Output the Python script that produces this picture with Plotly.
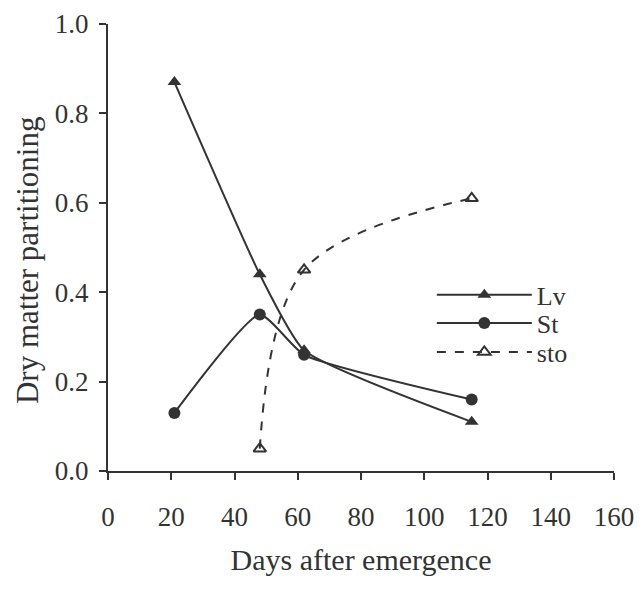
import plotly.graph_objects as go

days = [21, 48, 62, 115]
lv = [0.87, 0.44, 0.27, 0.11]
st = [0.13, 0.35, 0.26, 0.16]
sto_days = [48, 62, 115]
sto = [0.05, 0.45, 0.61]

x_ticks = [0, 20, 40, 60, 80, 100, 120, 140, 160]
y_ticks = [0.0, 0.2, 0.4, 0.6, 0.8, 1.0]

ink = "#333333"
font = "Liberation Serif"
tickfont = dict(family=font, size=27, color=ink)
legfont = dict(family=font, size=26, color=ink)

fig = go.Figure()
fig.add_trace(go.Scatter(x=days, y=lv, name="Lv", mode="lines+markers", legend="legend",
                         line=dict(color=ink, width=2, shape="spline", smoothing=0.5),
                         marker=dict(symbol="triangle-up", size=12, color=ink)))
fig.add_trace(go.Scatter(x=days, y=st, name="St", mode="lines+markers", legend="legend2",
                         line=dict(color=ink, width=2, shape="spline", smoothing=0.5),
                         marker=dict(symbol="circle", size=12, color=ink)))
fig.add_trace(go.Scatter(x=sto_days, y=sto, name="sto", mode="lines+markers", legend="legend3",
                         line=dict(color=ink, width=2, dash="dash", shape="spline", smoothing=1),
                         marker=dict(symbol="triangle-up-open", size=11, color=ink,
                                     line=dict(width=2, color=ink))))

leg_common = dict(x=0.640, xanchor="left", yanchor="middle",
                  bgcolor="rgba(0,0,0,0)", itemwidth=95, font=legfont)

fig.update_layout(
    width=635, height=582,
    margin=dict(l=100, r=29, t=16, b=119),
    paper_bgcolor="white", plot_bgcolor="white",
    font=dict(family=font, size=25, color=ink),
    showlegend=True,
    legend=dict(y=0.394, **leg_common),
    legend2=dict(y=0.331, **leg_common),
    legend3=dict(y=0.266, **leg_common),
    xaxis=dict(range=[0, 160], tickvals=x_ticks, ticktext=[str(v) for v in x_ticks],
               tickfont=tickfont, automargin=False, ticklabelstandoff=14,
               showline=True, linecolor=ink, linewidth=2, ticks="outside",
               ticklen=7, tickwidth=2, tickcolor=ink, showgrid=False, zeroline=False,
               title=dict(text="Days after emergence", font=dict(family=font, size=30, color=ink),
                          standoff=18)),
    yaxis=dict(range=[0, 1.0], tickvals=y_ticks, ticktext=[f"{v:.1f}" for v in y_ticks],
               tickfont=tickfont, automargin=False, ticklabelstandoff=5,
               showline=True, linecolor=ink, linewidth=2, ticks="outside",
               ticklen=7, tickwidth=2, tickcolor=ink, showgrid=False, zeroline=False),
    annotations=[dict(text="Dry matter partitioning", textangle=-90,
                      xref="paper", yref="paper", x=-0.160, y=0.472,
                      xanchor="center", yanchor="middle", showarrow=False,
                      font=dict(family=font, size=31, color=ink))],
)

fig.write_html("out.html")
